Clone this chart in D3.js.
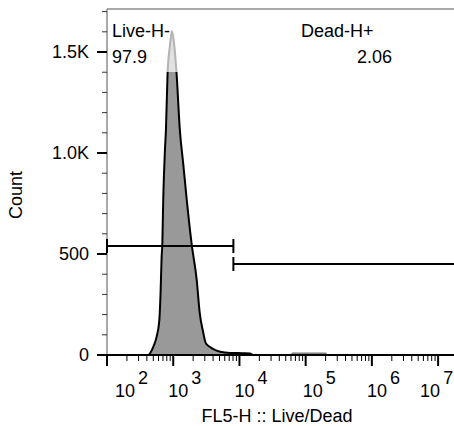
<!DOCTYPE html>
<html>
<head>
<meta charset="utf-8">
<script src="https://cdn.jsdelivr.net/npm/d3@7"></script>
<style>
	body { margin: 0; background: #fff; }
	text { font-family: "Liberation Sans", Arial, Helvetica, sans-serif; fill: #000; }
</style>
</head>
<body>
<div id="chart"></div>
<script>
// histogram (FL5-H value, count)
var fluor = [100, 316, 417, 501, 562, 617, 646, 668, 684, 708, 750, 776, 822, 891, 955, 1023, 1122, 1259, 1413, 1585, 1905, 2265, 2512, 2851, 3090, 3548, 4266, 5129, 7244, 11220, 14454, 15849, 60256, 63096, 199526, 213796, 17378008];
var counts = [0, 0, 0, 41, 91, 173, 322, 485, 545, 783, 1015, 1114, 1396, 1530, 1604, 1550, 1396, 1114, 950, 782, 545, 371, 208, 109, 60, 41, 25, 16, 10, 9, 8, 0, 0, 9, 9, 0, 0];

var yTicks = [0, 500, 1000, 1500];
var yTickLabels = ["0", "500", "1.0K", "1.5K"];
var xDecades = [2, 3, 4, 5, 6, 7];

var gateNames = ["Live-H-", "Dead-H+"];
var gatePercents = ["97.9", "2.06"];
var gateCut = 8100;

window.onload = function() {
	makeHistogram();
};


function makeHistogram() {
	var width = 454,
		height = 426;

	var left = 107, top = 9, bottom = 355;

	var x = d3.scaleLog()
		.domain([100, Math.pow(10, 7.24)])
		.range([left, width]);

	var y = d3.scaleLinear()
		.domain([0, 1713])
		.range([bottom, top]);

	var svg = d3.select("#chart").append("svg")
		.attr("width", width)
		.attr("height", height);

	var data = fluor.map(function(d, i) { return {v: d, c: counts[i]}; });

	var area = d3.area()
		.x(function(d) { return x(d.v); })
		.y0(y(0))
		.y1(function(d) { return y(d.c); })
		.curve(d3.curveMonotoneX);

	var line = d3.line()
		.x(function(d) { return x(d.v); })
		.y(function(d) { return y(d.c); })
		.curve(d3.curveMonotoneX);

	svg.append("path")
		.datum(data)
		.attr("d", area)
		.attr("fill", "#999999");

	// main peak outline black, far tail only a thin grey edge
	svg.append("path")
		.datum(data.filter(function(d) { return d.v <= 15849; }))
		.attr("d", line)
		.attr("fill", "none")
		.attr("stroke", "#000")
		.attr("stroke-width", 2);

	svg.append("path")
		.datum(data.filter(function(d) { return d.v >= 15849; }))
		.attr("d", line)
		.attr("fill", "none")
		.attr("stroke", "#777")
		.attr("stroke-width", 1.2);

	// frame
	svg.append("line")
		.attr("x1", left).attr("x2", width)
		.attr("y1", top).attr("y2", top)
		.attr("stroke", "#555").attr("stroke-width", 1);
	svg.append("line")
		.attr("x1", left).attr("x2", left)
		.attr("y1", top).attr("y2", bottom)
		.attr("stroke", "#555").attr("stroke-width", 1);
	svg.append("line")
		.attr("x1", left).attr("x2", width)
		.attr("y1", bottom).attr("y2", bottom)
		.attr("stroke", "#000").attr("stroke-width", 2);

	// y ticks
	var yMinor = d3.range(0, 1800, 100);
	svg.selectAll(".yminor")
		.data(yMinor)
		.enter().append("line")
		.attr("x1", left - 5).attr("x2", left)
		.attr("y1", function(d) { return y(d); })
		.attr("y2", function(d) { return y(d); })
		.attr("stroke", "#333").attr("stroke-width", 1);

	svg.selectAll(".ymajor")
		.data(yTicks)
		.enter().append("line")
		.attr("x1", left - 10).attr("x2", left)
		.attr("y1", function(d) { return y(d); })
		.attr("y2", function(d) { return y(d); })
		.attr("stroke", "#000").attr("stroke-width", 2);

	svg.selectAll(".ylabel")
		.data(yTicks)
		.enter().append("text")
		.attr("x", left - 18)
		.attr("y", function(d) { return y(d) + 6; })
		.attr("text-anchor", "end")
		.attr("font-size", 18)
		.text(function(d, i) { return yTickLabels[i]; });

	// x ticks
	var xMinor = [];
	xDecades.forEach(function(e) {
		d3.range(2, 10).forEach(function(m) {
			var v = m * Math.pow(10, e);
			if (v < x.domain()[1]) xMinor.push(v);
		});
	});

	svg.selectAll(".xminor")
		.data(xMinor)
		.enter().append("line")
		.attr("x1", function(d) { return x(d); })
		.attr("x2", function(d) { return x(d); })
		.attr("y1", bottom).attr("y2", bottom + 6)
		.attr("stroke", "#000").attr("stroke-width", 1);

	svg.selectAll(".xmajor")
		.data(xDecades)
		.enter().append("line")
		.attr("x1", function(d) { return x(Math.pow(10, d)); })
		.attr("x2", function(d) { return x(Math.pow(10, d)); })
		.attr("y1", bottom).attr("y2", bottom + 11)
		.attr("stroke", "#000").attr("stroke-width", 2);

	var labelShift = [8, -5, -5, -3, -5, -18];
	var xLabels = svg.selectAll(".xlabel")
		.data(xDecades)
		.enter().append("text")
		.attr("x", function(d, i) { return x(Math.pow(10, d)) + labelShift[i]; })
		.attr("y", 397)
		.attr("font-size", 18);
	xLabels.append("tspan").text("10");
	xLabels.append("tspan")
		.attr("dx", 3)
		.attr("dy", -13)
		.text(function(d) { return d; });

	// axis titles
	svg.append("text")
		.attr("x", 277)
		.attr("y", 422)
		.attr("text-anchor", "middle")
		.attr("font-size", 18)
		.text("FL5-H :: Live/Dead");

	svg.append("text")
		.attr("transform", "translate(22,195) rotate(-90)")
		.attr("text-anchor", "middle")
		.attr("font-size", 18)
		.text("Count");

	// gates
	var gateY = [246, 264];
	var gates = [[x.domain()[0], gateCut], [gateCut, x.domain()[1]]];
	gates.forEach(function(g, i) {
		svg.append("line")
			.attr("x1", x(g[0])).attr("x2", x(g[1]))
			.attr("y1", gateY[i]).attr("y2", gateY[i])
			.attr("stroke", "#000").attr("stroke-width", 2);
		[g[0], g[1]].forEach(function(v) {
			if (v >= x.domain()[1]) return;
			svg.append("line")
				.attr("x1", x(v)).attr("x2", x(v))
				.attr("y1", gateY[i] - 7).attr("y2", gateY[i] + 7)
				.attr("stroke", "#000").attr("stroke-width", 2);
		});
	});

	// label boxes (semi transparent like FlowJo)
	svg.append("rect")
		.attr("x", 109).attr("y", 14)
		.attr("width", 72).attr("height", 58)
		.attr("fill", "#fff").attr("fill-opacity", 0.7);

	var labelX = [112, 301];
	var pctX = [112, 357];
	gateNames.forEach(function(n, i) {
		svg.append("text")
			.attr("x", labelX[i]).attr("y", 37)
			.attr("font-size", 18)
			.text(n);
		svg.append("text")
			.attr("x", pctX[i]).attr("y", 63)
			.attr("font-size", 18)
			.text(gatePercents[i]);
	});
}
</script>
</body>
</html>
